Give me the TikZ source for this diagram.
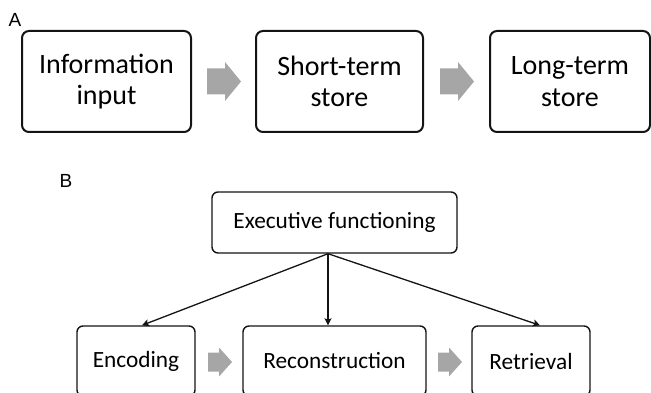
\documentclass[tikz,border=0pt]{standalone}
\usepackage{fontspec}
\setmainfont{Carlito}
\newfontfamily\labelfont{Liberation Sans}
\usetikzlibrary{arrows.meta}
\definecolor{boxline}{RGB}{20,20,20}
\definecolor{flowgray}{RGB}{166,166,166}
\begin{document}
\begin{tikzpicture}[x=1pt,y=-1pt,
  bigbox/.style={draw=boxline,line width=2pt,rounded corners=7pt,inner sep=0pt,
    minimum width=#1,minimum height=101pt,align=center,
    font=\fontsize{28}{31.5}\selectfont},
  smallbox/.style={draw=boxline,line width=1.4pt,rounded corners=6pt,inner sep=0pt,
    minimum width=#1,align=center,font=\fontsize{23.3}{27}\selectfont},
  panel/.style={font=\labelfont\fontsize{19}{21}\selectfont,inner sep=0pt},
  link/.style={draw=boxline,line width=1.3pt,-{Stealth[length=7pt,width=7pt,inset=1.5pt]}}]
\useasboundingbox (0,0) rectangle (651,393);
\clip (0,0) rectangle (651,393);

% panel A: linear store model
\node[panel] (labA) at (15,20) {A};
\node[bigbox=169pt] (info) at (106.5,81.5) {Information\\input};
\node[bigbox=167pt] (short) at (339.5,81.5) {Short-term\\store};
\node[bigbox=160pt] (long) at (570,81.5) {Long-term\\store};

% block arrows between the stores
\fill[flowgray] (207,68.5) -- (225,68.5) -- (225,62) -- (241,81.5) -- (225,101) -- (225,94.5) -- (207,94.5) -- cycle;
\fill[flowgray] (440,68.5) -- (458,68.5) -- (458,62) -- (474,81.5) -- (458,101) -- (458,94.5) -- (440,94.5) -- cycle;

% panel B: executive control of memory
\node[panel] (labB) at (66,181) {B};
\node[smallbox=245pt,minimum height=61pt] (exec) at (334.5,222.5) {Executive functioning};
\node[smallbox=118pt,minimum height=70pt] (enc) at (136,361) {Encoding};
\node[smallbox=183pt,minimum height=70pt] (rec) at (334.5,361) {Reconstruction};
\node[smallbox=118pt,minimum height=70pt] (ret) at (531,361) {Retrieval};

\coordinate (hub) at (exec.south -| 328,0);
\draw[link] (hub) -- (enc.north -| 142,0);
\draw[link] (hub) -- (rec.north -| 328,0);
\draw[link] (hub) -- (ret.north -| 540,0);

\fill[flowgray] (208,352.5) -- (219,352.5) -- (219,347.5) -- (232,362) -- (219,376.5) -- (219,371.5) -- (208,371.5) -- cycle;
\fill[flowgray] (438,352.5) -- (449,352.5) -- (449,347.5) -- (462,362) -- (449,376.5) -- (449,371.5) -- (438,371.5) -- cycle;
\end{tikzpicture}
\end{document}
